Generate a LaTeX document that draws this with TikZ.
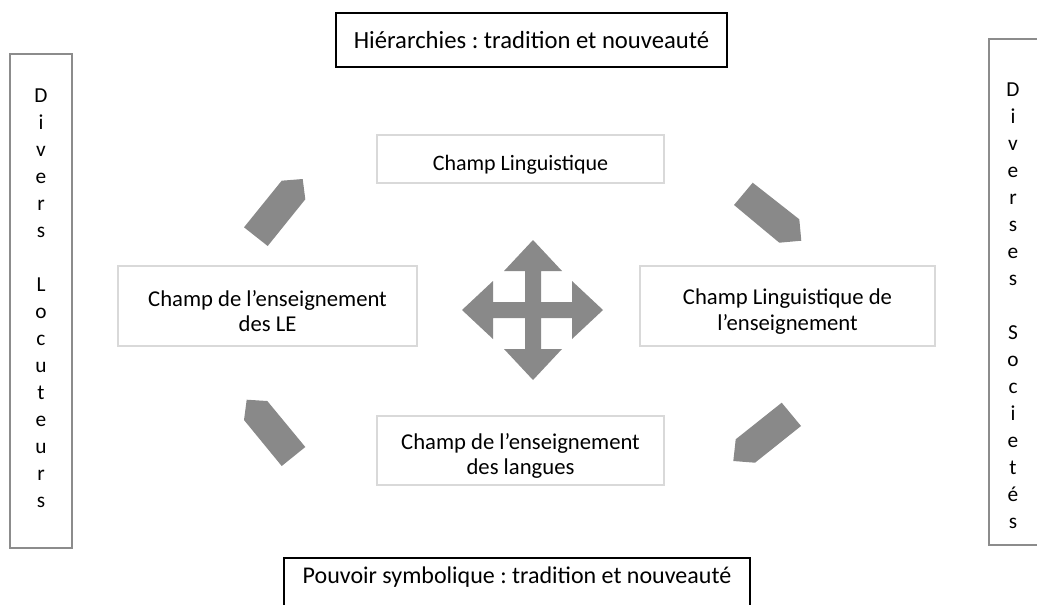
\documentclass[tikz,border=0pt]{standalone}
\usepackage{fontspec}
\setmainfont{Carlito}
\frenchspacing
\definecolor{flechegris}{HTML}{898989}
\definecolor{bordgris}{HTML}{D9D9D9}
\definecolor{colonnegris}{HTML}{8C8C8C}
% raise the first line a little, as in the source
\newcommand{\hausse}{\rule{0pt}{20pt}}
\tikzset{
    %Define style for the field boxes
    champ/.style={
           rectangle,
           draw=bordgris,
           line width=1.5pt,
           align=center,
           font=\fontsize{17}{19}\selectfont},
    %Define style for the title boxes
    cadre/.style={
           rectangle,
           draw,
           line width=1.3pt,
           font=\fontsize{18.5}{22}\selectfont},
    colonne/.style={
           rectangle,
           draw=colonnegris,
           line width=1.6pt},
    lettres/.style={
           align=center,
           font=\fontsize{16}{20.25}\selectfont},
    % Define style for block arrows
    fleche/.style={
           fill=flechegris}
}

\begin{document}
\begin{tikzpicture}[x=0.75pt, y=-0.75pt]
 \useasboundingbox (0,0) rectangle (1037,604);
 \clip (0,0) rectangle (1037,604);

 % titles
 \node [cadre, minimum width=293.25pt, minimum height=40.5pt] (hierarchies) at (531.5,40)
 {Hiérarchies : tradition et nouveauté};
 \node [cadre, anchor=north, minimum width=349.5pt, inner ysep=0pt,
   text height=19.5pt, text depth=30pt, font=\fontsize{18}{22}\selectfont] (pouvoir) at (517,557)
 {Pouvoir symbolique : tradition et nouveauté};

 % side columns
 \node [colonne, minimum width=46.5pt, minimum height=370.5pt] (gauche) at (41,301) {};
 \node [lettres] (locuteurs) at (41,298)
 {D\\i\\v\\e\\r\\s\\\mbox{}\\L\\o\\c\\u\\t\\e\\u\\r\\s};
 \node [colonne, minimum width=39pt, minimum height=379.5pt] (droite) at (1015,292) {};
 \node [lettres] (societes) at (1013,306)
 {D\\i\\v\\e\\r\\s\\e\\s\\\mbox{}\\S\\o\\c\\i\\e\\t\\é\\s};

 % fields
 \node [champ, minimum width=215.25pt, minimum height=36pt, font=\fontsize{16.5}{19}\selectfont] (ling) at (520.5,159)
 {\hausse Champ Linguistique};
 \node [champ, minimum width=221.25pt, minimum height=60pt] (lingens) at (787.5,306)
 {\hausse Champ Linguistique de\\l’enseignement};
 \node [champ, minimum width=215.25pt, minimum height=51.75pt] (langues) at (520.5,450.5)
 {\hausse Champ de l’enseignement\\des langues};
 \node [champ, minimum width=224.25pt, minimum height=60pt] (le) at (267.5,306)
 {\hausse Champ de l’enseignement\\des LE};

 % block arrows
 \fill [fleche] (281.7,180.7) -- (302.7,179) -- (305.3,199.3) -- (267.7,246) -- (244,227.3) -- cycle;
 \fill [fleche] (752.7,182.7) -- (799.3,219.3) -- (801.3,240.7) -- (779.3,242.7) -- (734,205) -- cycle;
 \fill [fleche] (781.7,402.7) -- (801,426) -- (755,462.7) -- (733.3,461) -- (735.7,439.3) -- cycle;
 \fill [fleche] (246.7,399.7) -- (267.3,401) -- (305.3,447) -- (281.7,466) -- (244,420) -- cycle;

 % four-way arrow
 \fill [fleche] (533,240) -- (562,271) -- (541,271) -- (541,302) -- (572,302) -- (572,281)
   -- (603,310) -- (572,339) -- (572,318) -- (541,318) -- (541,349) -- (562,349)
   -- (533,380) -- (504,349) -- (525,349) -- (525,318) -- (493,318) -- (493,339)
   -- (462,310) -- (493,281) -- (493,302) -- (525,302) -- (525,271) -- (504,271) -- cycle;
\end{tikzpicture}
\end{document}
